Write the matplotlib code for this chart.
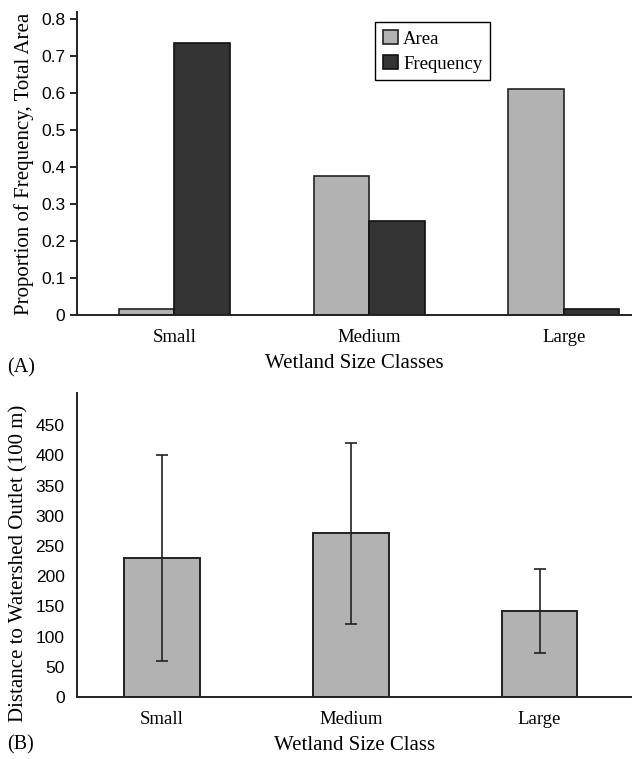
import numpy as np
import matplotlib.pyplot as plt

plt.rcParams['font.family'] = ['Liberation Serif', 'DejaVu Serif']

# panel A data
classes = ["Small", "Medium", "Large"]
area = [0.016, 0.376, 0.61]
frequency = [0.735, 0.254, 0.016]

# panel B data
distance = [230, 271, 142]
distance_err = [171, 150, 70]

fig = plt.figure(figsize=(6.32, 7.59), dpi=100)

# (A) proportions
ax1 = fig.add_axes([0.122, 0.585, 0.878, 0.399])
x = np.arange(len(classes))
w = 0.285
ax1.bar(x - w/2, area, w, color="#b2b2b2", edgecolor="#222222", linewidth=1.2, label="Area")
ax1.bar(x + w/2, frequency, w, color="#333333", edgecolor="#111111", linewidth=1.2, label="Frequency")
ax1.set_xlim(-0.5, 2.35)
ax1.set_ylim(0, 0.819)
ax1.set_yticks(np.arange(0, 0.81, 0.1))
ax1.set_yticklabels(["0"] + [f"{v:.1f}" for v in np.arange(0.1, 0.81, 0.1)])
ax1.set_xticks(x)
ax1.set_xticklabels(classes)
ax1.set_ylabel("Proportion of Frequency, Total Area", fontsize=15, labelpad=5)
ax1.set_xlabel("Wetland Size Classes", fontsize=15, labelpad=6)
leg = ax1.legend(loc="upper left", bbox_to_anchor=(0.537, 0.966), fontsize=13.5,
                 handlelength=0.8, handleheight=0.8, handletextpad=0.3,
                 fancybox=False, edgecolor="black", framealpha=1, borderpad=0.4,
                 borderaxespad=0, labelspacing=0.4)
leg.get_frame().set_linewidth(1.0)
fig.text(0.012, 0.515, "(A)", fontsize=14.5, va="center")
ax1.tick_params(axis="y", length=5, width=1.2, direction="out")

# (B) distance to outlet
ax2 = fig.add_axes([0.122, 0.0817, 0.878, 0.4003])
ax2.bar(x, distance, 0.40, yerr=distance_err, color="#b2b2b2", edgecolor="#222222",
        linewidth=1.4, error_kw=dict(ecolor="#222222", elinewidth=1.2, capsize=4, capthick=1.2))
ax2.set_xlim(-0.45, 2.49)
ax2.set_ylim(0, 503)
ax2.set_yticks(np.arange(0, 451, 50))
ax2.set_xticks(x)
ax2.set_xticklabels(classes)
ax2.set_ylabel("Distance to Watershed Outlet (100 m)", fontsize=15, labelpad=5)
ax2.yaxis.label.set_y(0.44)
ax2.set_xlabel("Wetland Size Class", fontsize=15, labelpad=6)
fig.text(0.012, 0.019, "(B)", fontsize=14.5, va="center")
ax2.tick_params(axis="y", length=0, pad=9)

for ax in (ax1, ax2):
    for s in ("top", "right"):
        ax.spines[s].set_visible(False)
    for s in ("left", "bottom"):
        ax.spines[s].set_linewidth(1.4)
        ax.spines[s].set_color("#222222")
    ax.tick_params(axis="x", labelsize=13.5, length=0, pad=10)
    for lab in ax.get_yticklabels():
        lab.set_family("Liberation Sans")
        lab.set_fontsize(12.5)

fig.savefig("out.png", dpi=100)
